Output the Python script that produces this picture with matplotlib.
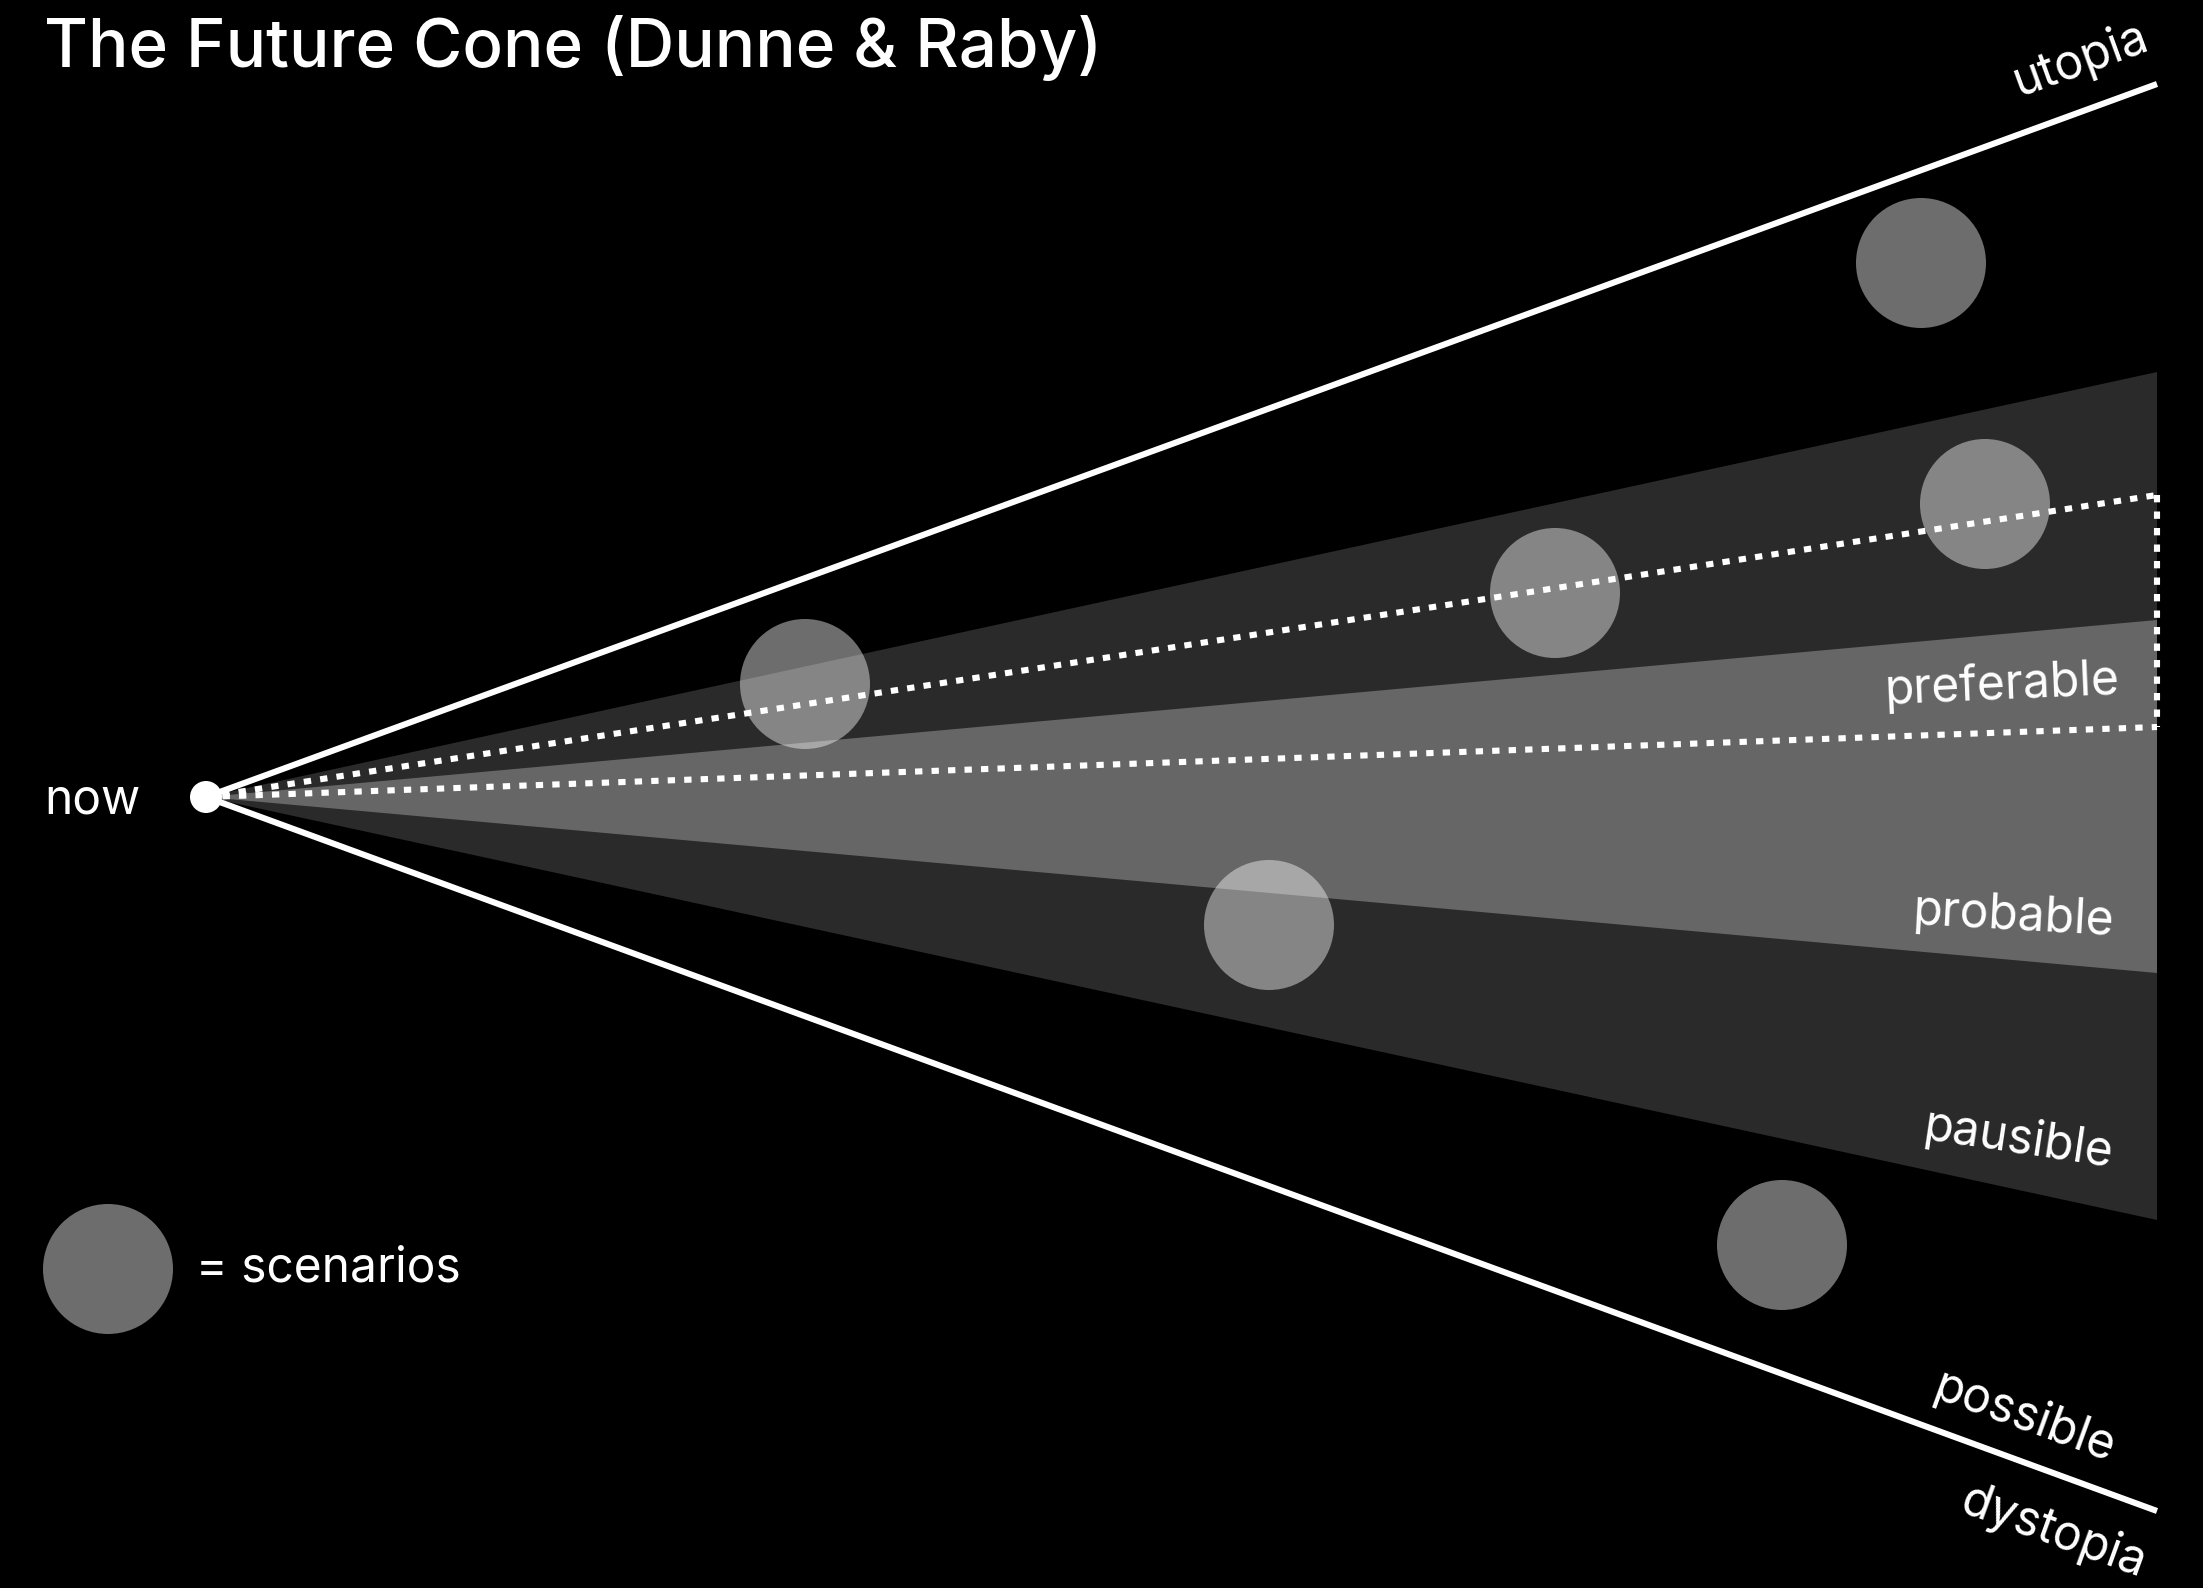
import matplotlib.pyplot as plt
from matplotlib.patches import Polygon, Circle

# Future cone geometry (pixel units, y grows downward)
now_x, now_y = 206, 797
end_x = 2157
possible = [84, 1511]      # top / bottom edge at end_x
plausible = [372, 1220]
probable = [620, 973]
preferable = [495, 727]

scen_x = [1921, 1985, 1555, 805, 1269, 1782]
scen_y = [263, 504, 593, 684, 925, 1245]
scen_r = 65
legend_xy = (108, 1269)

# labels: text, x, y, rotation
labels = [
    ('utopia', 2080, 60, 20),
    ('preferable', 2002, 685, 2.5),
    ('probable', 2013, 917, -3.2),
    ('pausible', 2018, 1140, -8.5),
    ('possible', 2024, 1417, -20),
    ('dystopia', 2054, 1532, -20),
]

plt.rcParams['font.family'] = ['Inter', 'DejaVu Sans']

fig = plt.figure(figsize=(22.03, 15.88), dpi=100, facecolor='black')
ax = fig.add_axes([0, 0, 1, 1])
ax.set_facecolor('black')
ax.set_xlim(0, 2203)
ax.set_ylim(1588, 0)
ax.axis('off')

# wedges
ax.add_patch(Polygon([(now_x, now_y), (end_x, plausible[0]), (end_x, plausible[1])],
                     closed=True, facecolor='#2a2a2a', edgecolor='none', zorder=1))
ax.add_patch(Polygon([(now_x, now_y), (end_x, probable[0]), (end_x, probable[1])],
                     closed=True, facecolor='#666666', edgecolor='none', zorder=2))

# scenarios
for x, y in zip(scen_x, scen_y):
    ax.add_patch(Circle((x, y), scen_r, facecolor='white', alpha=0.43,
                        edgecolor='none', zorder=3))
ax.add_patch(Circle(legend_xy, scen_r, facecolor='white', alpha=0.43,
                    edgecolor='none', zorder=3))

# possible cone edges
for yy in possible:
    ax.plot([now_x, end_x], [now_y, yy], color='white', lw=4.4, solid_capstyle='butt', zorder=4)

# preferable (dotted)
for yy in preferable:
    ax.plot([now_x, end_x], [now_y, yy], color='white', lw=4.4,
            linestyle=(0, (1.2, 1.5)), dash_capstyle='butt', zorder=4)
ax.plot([end_x, end_x], preferable, color='white', lw=4.4,
        linestyle=(0, (1.2, 1.5)), dash_capstyle='butt', zorder=4)

# now dot
ax.add_patch(Circle((now_x, now_y), 16, facecolor='white', edgecolor='none', zorder=5))

for txt, x, y, rot in labels:
    ax.text(x, y, txt, color='white', fontsize=34.5, rotation=rot,
            rotation_mode='anchor', ha='center', va='center', zorder=6)

ax.text(92, now_y + 3, 'now', color='white', fontsize=34.5, ha='center', va='center', zorder=6)
ax.text(196, legend_xy[1], '= scenarios', color='white', fontsize=34.5,
        ha='left', va='center', zorder=6)
ax.text(44, 48, 'The Future Cone (Dunne & Raby)', color='white', fontsize=48.5,
        fontweight='medium', ha='left', va='center', zorder=6)

fig.savefig('out.png', dpi=100, facecolor='black')
